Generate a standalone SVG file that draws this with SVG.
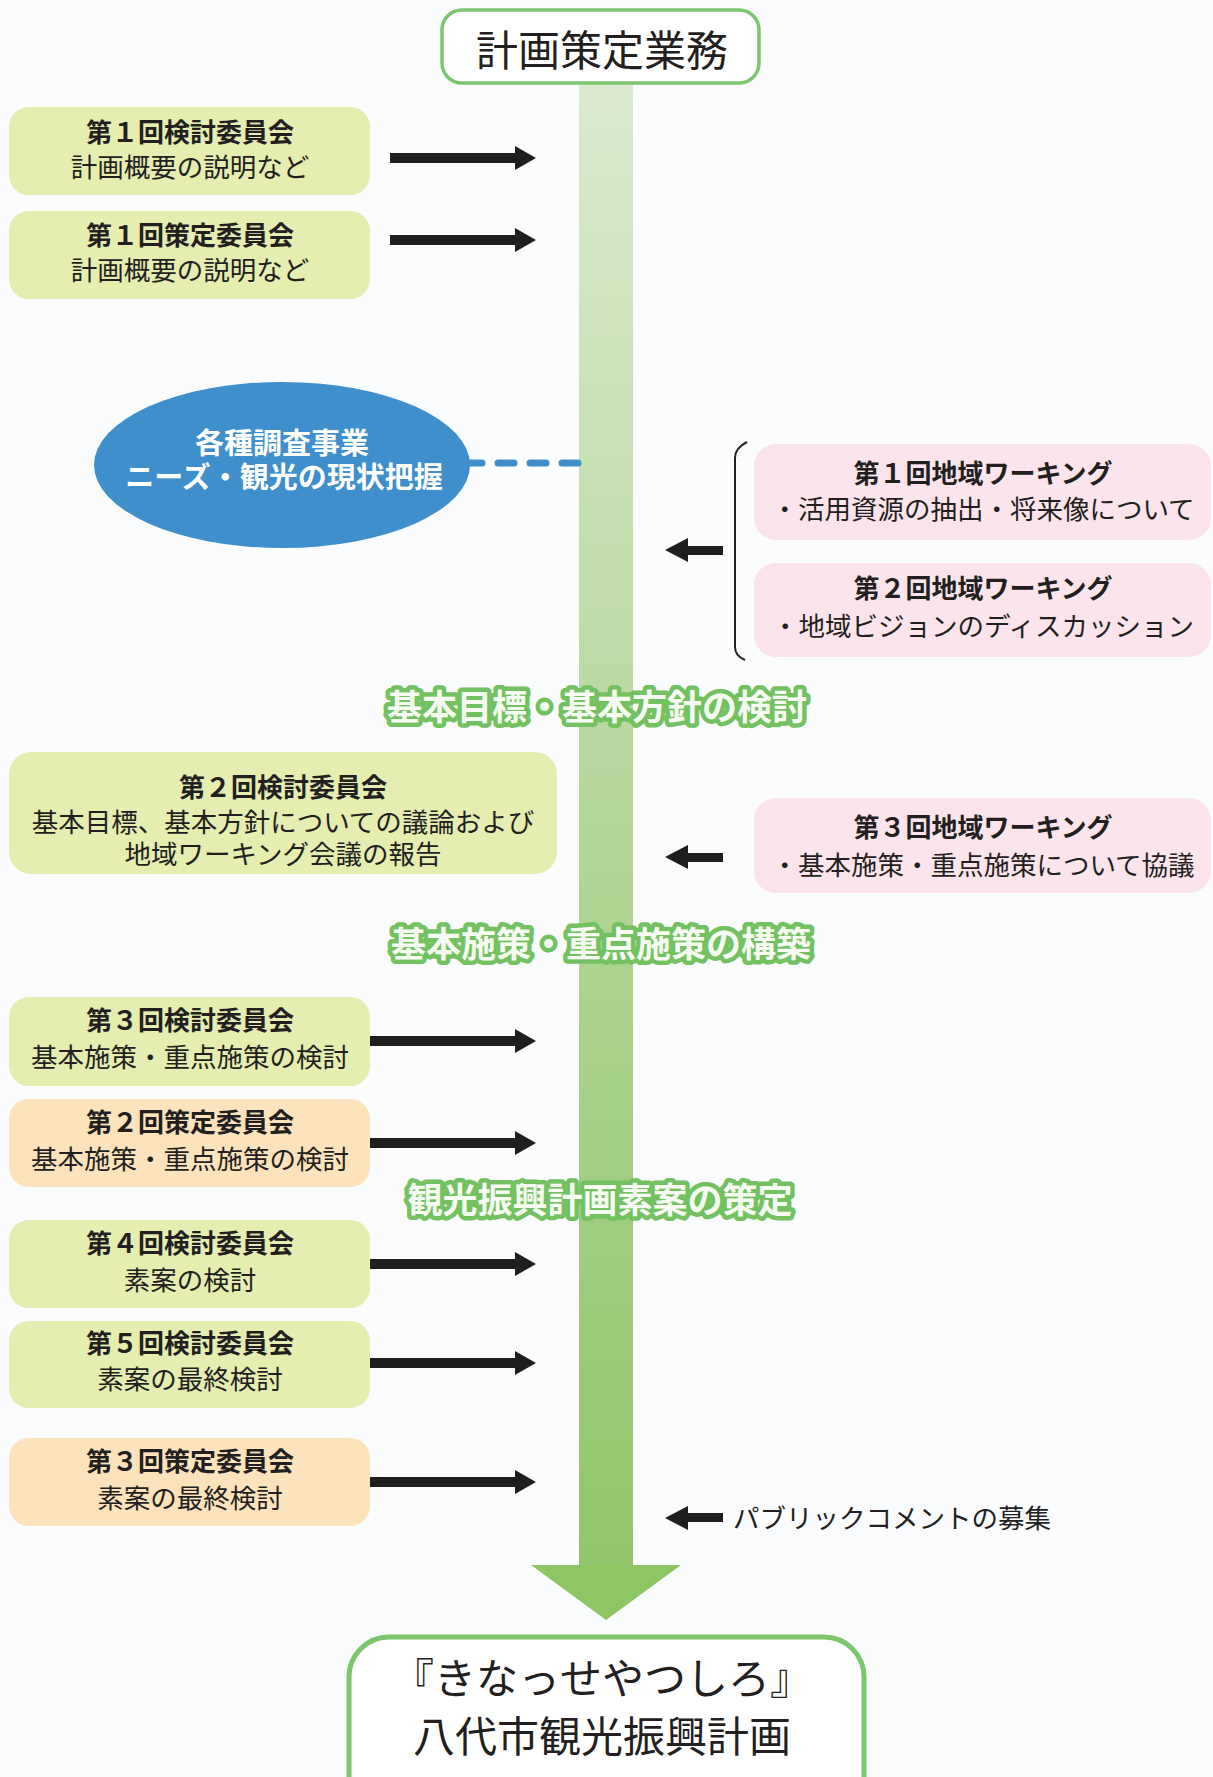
<svg xmlns="http://www.w3.org/2000/svg" width="1213" height="1777" viewBox="0 0 1213 1777">
<defs>
<linearGradient id="barGrad" x1="0" y1="0" x2="0" y2="1">
<stop offset="0" stop-color="#dbeacf"/>
<stop offset="0.5" stop-color="#b3d699"/>
<stop offset="1" stop-color="#91c56a"/>
</linearGradient>
<style>
text{font-family:"Noto Sans CJK JP","Noto Sans",sans-serif;fill:#231f20;text-anchor:middle}
.t{font-size:26px;font-weight:bold}
.s{font-size:26.5px}
.g{fill:#e5edb0}
.o{fill:#fde3bb}
.p{fill:#fce4ec}
.arr{fill:#1e1e1e}
.lbl{font-size:35px;font-weight:bold;fill:#f7fcf2;stroke:#73c262;stroke-width:9px;stroke-linejoin:round;paint-order:stroke}
.big{font-size:42px}
.w{fill:#ffffff;font-size:29px;font-weight:bold}
</style>
</defs>
<rect width="1213" height="1777" fill="#fbfcfe"/>

<g id="flow-bar">
<rect x="579" y="84" width="54" height="1482" fill="url(#barGrad)"/>
<polygon points="531,1565 681,1565 606,1620" fill="#8dc663"/>
</g>

<g id="top">
<rect x="442" y="10" width="317" height="73" rx="20" fill="#ffffff" stroke="#7cc66d" stroke-width="3.5"/>
<text class="big" x="602" y="66">計画策定業務</text>
</g>

<g id="bottom">
<rect x="349" y="1637" width="515" height="180" rx="40" fill="#ffffff" stroke="#7cc66d" stroke-width="5"/>
<text class="big" x="602" y="1694">『きなっせやつしろ』</text>
<text class="big" x="602" y="1752">八代市観光振興計画</text>
</g>

<g id="connectors">
<polygon class="arr" points="390,153 515,153 515,146 536,158 515,170 515,163 390,163"/>
<polygon class="arr" points="390,235 515,235 515,228 536,240 515,252 515,245 390,245"/>
<line x1="466" y1="463" x2="579" y2="463" stroke="#3f8fcc" stroke-width="7" stroke-linecap="round" stroke-dasharray="16 16"/>
<path d="M747,442 Q735,448 735,458 L735,647 Q735,656 745,660" fill="none" stroke="#222" stroke-width="2"/>
<polygon class="arr" points="723,546 688,546 688,538 665,550 688,562 688,555 723,555"/>
<polygon class="arr" points="723,853 688,853 688,845 665,857 688,869 688,862 723,862"/>
<polygon class="arr" points="370,1036 515,1036 515,1029 536,1041 515,1053 515,1046 370,1046"/>
<polygon class="arr" points="370,1138 515,1138 515,1131 536,1143 515,1155 515,1148 370,1148"/>
<polygon class="arr" points="370,1259 515,1259 515,1252 536,1264 515,1276 515,1269 370,1269"/>
<polygon class="arr" points="370,1358 515,1358 515,1351 536,1363 515,1375 515,1368 370,1368"/>
<polygon class="arr" points="370,1477 515,1477 515,1470 536,1482 515,1494 515,1487 370,1487"/>
<polygon class="arr" points="723,1513 688,1513 688,1506 665,1518 688,1530 688,1522 723,1522"/>
</g>

<g id="kento1">
<rect class="g" x="9" y="107" width="361" height="88" rx="20"/>
<text class="t" x="190" y="142">第１回検討委員会</text>
<text class="s" x="190" y="177">計画概要の説明など</text>
</g>
<g id="sakutei1">
<rect class="g" x="9" y="211" width="361" height="88" rx="20"/>
<text class="t" x="190" y="245">第１回策定委員会</text>
<text class="s" x="190" y="280">計画概要の説明など</text>
</g>

<g id="survey">
<ellipse cx="282" cy="465" rx="188" ry="83" fill="#3f8fcc"/>
<text class="w" x="282" y="454">各種調査事業</text>
<text class="w" x="284" y="488">ニーズ・観光の現状把握</text>
</g>

<g id="working1">
<rect class="p" x="754" y="444" width="457" height="96" rx="22"/>
<text class="t" x="983" y="483">第１回地域ワーキング</text>
<text class="s" x="983" y="519">・活用資源の抽出・将来像について</text>
</g>
<g id="working2">
<rect class="p" x="754" y="563" width="457" height="94" rx="22"/>
<text class="t" x="983" y="598">第２回地域ワーキング</text>
<text class="s" x="983" y="636">・地域ビジョンのディスカッション</text>
</g>

<g id="label1"><text class="lbl" x="597" y="720">基本目標・基本方針の検討</text></g>

<g id="kento2">
<rect class="g" x="9" y="752" width="548" height="122" rx="22"/>
<text class="t" x="283" y="797">第２回検討委員会</text>
<text class="s" x="283" y="832">基本目標、基本方針についての議論および</text>
<text class="s" x="283" y="864">地域ワーキング会議の報告</text>
</g>
<g id="working3">
<rect class="p" x="754" y="798" width="457" height="95" rx="22"/>
<text class="t" x="983" y="837">第３回地域ワーキング</text>
<text class="s" x="983" y="875">・基本施策・重点施策について協議</text>
</g>

<g id="label2"><text class="lbl" x="601" y="957">基本施策・重点施策の構築</text></g>

<g id="kento3">
<rect class="g" x="9" y="997" width="361" height="89" rx="20"/>
<text class="t" x="190" y="1030">第３回検討委員会</text>
<text class="s" x="190" y="1067">基本施策・重点施策の検討</text>
</g>
<g id="sakutei2">
<rect class="o" x="9" y="1099" width="361" height="88" rx="20"/>
<text class="t" x="190" y="1132">第２回策定委員会</text>
<text class="s" x="190" y="1169">基本施策・重点施策の検討</text>
</g>

<g id="label3"><text class="lbl" x="600" y="1213">観光振興計画素案の策定</text></g>

<g id="kento4">
<rect class="g" x="9" y="1220" width="361" height="88" rx="20"/>
<text class="t" x="190" y="1253">第４回検討委員会</text>
<text class="s" x="190" y="1290">素案の検討</text>
</g>
<g id="kento5">
<rect class="g" x="9" y="1321" width="361" height="87" rx="20"/>
<text class="t" x="190" y="1353">第５回検討委員会</text>
<text class="s" x="190" y="1389">素案の最終検討</text>
</g>
<g id="sakutei3">
<rect class="o" x="9" y="1438" width="361" height="88" rx="20"/>
<text class="t" x="190" y="1471">第３回策定委員会</text>
<text class="s" x="190" y="1508">素案の最終検討</text>
</g>

<g id="public-comment">
<text class="s" x="733" y="1528" style="text-anchor:start">パブリックコメントの募集</text>
</g>
</svg>
